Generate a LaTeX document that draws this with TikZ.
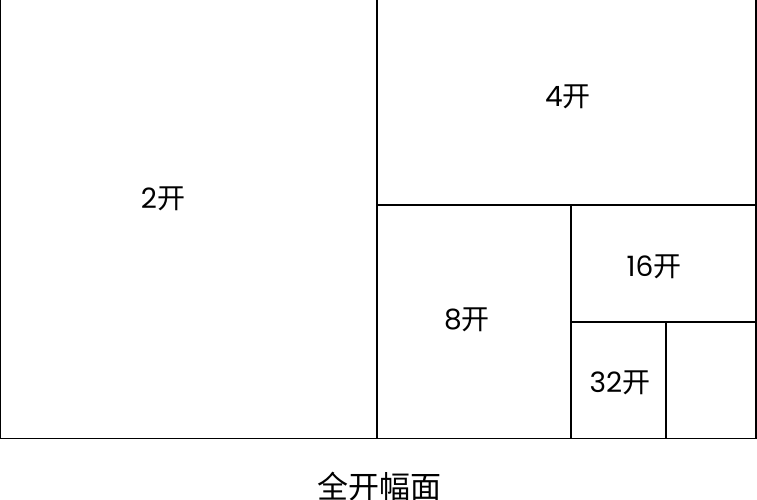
\documentclass[tikz,border=0pt]{standalone}
\usepackage{fontspec}
\setmainfont{Poppins}
\newfontfamily\cjk{Noto Sans CJK SC}
\usepackage{tikz}
\usetikzlibrary{positioning}
\tikzstyle{-}      = [draw, line width=1.2pt]
\tikzstyle{lbl}    = [font=\fontsize{28}{30}\selectfont, inner sep=0pt]
\tikzstyle{title}  = [font=\cjk\fontsize{31}{33}\selectfont, inner sep=0pt]
\newcommand{\kaiLabel}[1]{#1{\cjk 开}}

\begin{document}
\begin{tikzpicture}[x=1pt, y=-1pt]

\useasboundingbox (0,0) rectangle (757,500);

% sheet
\path [-] (0.6,-5) rectangle (756,438.5);
\coordinate (m)  at (377,  -5);
\coordinate (mb) at (377, 438.5);
\path [-] (m) -- (mb);
\path [-] (377,205) -- (756,205);
\path [-] (571,205) -- (571,438.5);
\path [-] (571,322) -- (756,322);
\path [-] (666,322) -- (666,438.5);

% labels
\node [lbl] at (163, 199) (k2)  {\kaiLabel{2}};
\node [lbl] at (568,  97) (k4)  {\kaiLabel{4}};
\node [lbl] at (467, 320) (k8)  {\kaiLabel{8}};
\node [lbl] at (654, 267) (k16) {\kaiLabel{16}};
\node [lbl] at (620, 383) (k32) {\kaiLabel{32}};

\node [title] at (379, 487) (full) {全开幅面};

\end{tikzpicture}
\end{document}
